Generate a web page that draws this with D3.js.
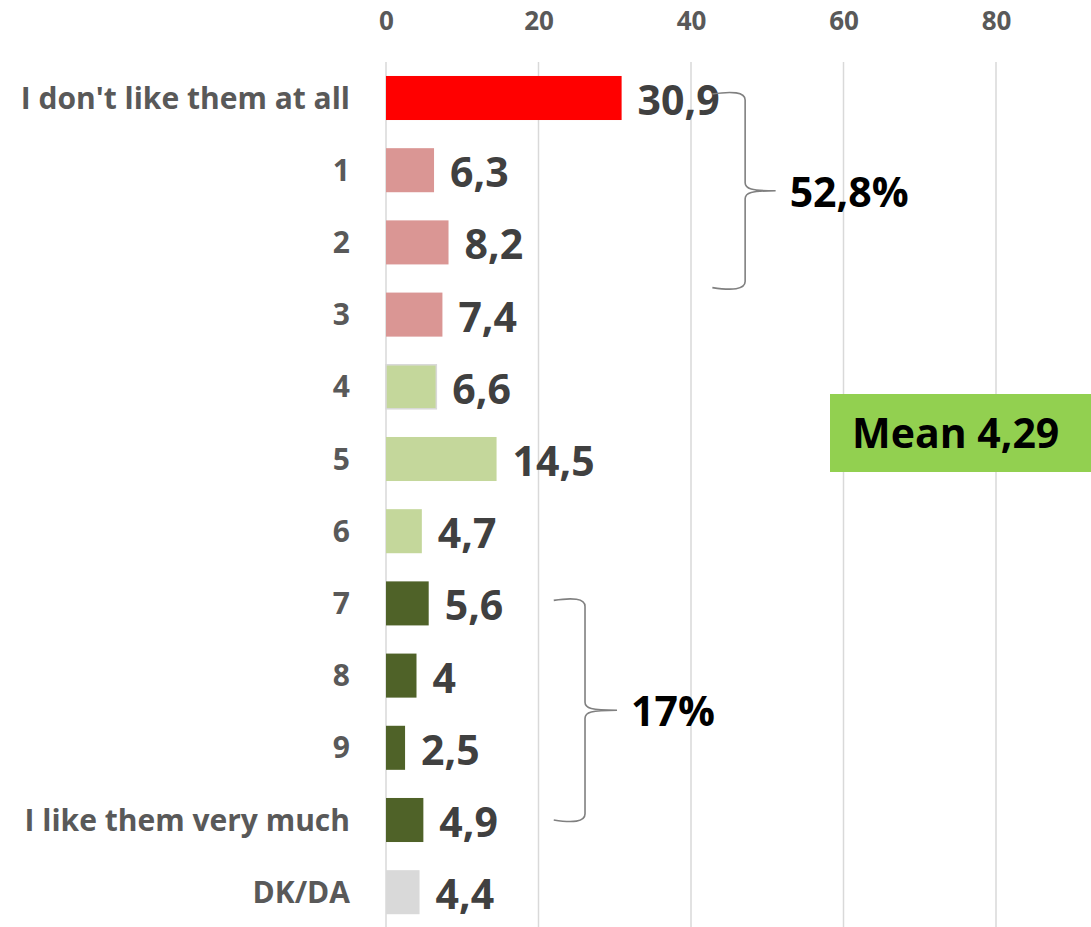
<!DOCTYPE html>
<html>
<head>
<meta charset="utf-8">
<script src="https://cdn.jsdelivr.net/npm/d3@7"></script>
<style>
  html, body { margin: 0; padding: 0; background: #fff; }
  svg { display: block; font-family: "Open Sans", Lato, sans-serif; font-weight: bold; }
</style>
</head>
<body>
<svg id="chart" width="1091" height="927"></svg>
<script>
// ---- data ----
const categories = ["I don't like them at all", "1", "2", "3", "4", "5", "6", "7", "8", "9", "I like them very much", "DK/DA"];
const values = [30.9, 6.3, 8.2, 7.4, 6.6, 14.5, 4.7, 5.6, 4, 2.5, 4.9, 4.4];
const valueLabels = ["30,9", "6,3", "8,2", "7,4", "6,6", "14,5", "4,7", "5,6", "4", "2,5", "4,9", "4,4"];
const ticks = [0, 20, 40, 60, 80];
const groupLabels = ["52,8%", "17%"];
const groupFrom = [0, 7];
const groupTo = [3, 10];
const meanLabel = "Mean 4,29";

// ---- styles ----
const barColors = ["#ff0000", "#da9694", "#da9694", "#da9694", "#c4d79b", "#c4d79b", "#c4d79b", "#4f6228", "#4f6228", "#4f6228", "#4f6228", "#d9d9d9"];
const FONT = "'Open Sans', Lato, sans-serif";

const svg = d3.select("#chart");
const W = 1091, H = 927;

const x = d3.scaleLinear().domain([0, 80]).range([386, 996]);
const y = d3.scaleBand().domain(d3.range(categories.length))
  .range([61.9, 61.9 + 72.2 * categories.length])
  .paddingInner(0.39).paddingOuter(0.195);
const yc = i => y(i) + y.bandwidth() / 2;

// gridlines
svg.append("g").selectAll("line").data(ticks).join("line")
  .attr("x1", d => x(d)).attr("x2", d => x(d))
  .attr("y1", 62).attr("y2", H)
  .attr("stroke", "#d9d9d9").attr("stroke-width", 1.5);

// axis (top)
const axis = svg.append("g").attr("transform", "translate(0,30)")
  .call(d3.axisTop(x).tickValues(ticks).tickSize(0).tickPadding(0).tickFormat(d3.format("d")));
axis.select(".domain").remove();
axis.selectAll("text")
  .attr("y", 0).attr("dy", 0)
  .style("font-family", FONT)
  .style("font-weight", "bold")
  .style("font-size", "26px")
  .attr("fill", "#595959");

// bars
svg.append("g").selectAll("rect").data(values).join("rect")
  .attr("x", x(0))
  .attr("y", (d, i) => y(i))
  .attr("width", d => x(d) - x(0))
  .attr("height", y.bandwidth())
  .attr("fill", (d, i) => barColors[i])
  .attr("stroke", (d, i) => i === 4 ? "#d9d9d9" : "none")
  .attr("stroke-width", 1.5);

// category labels
svg.append("g").selectAll("text").data(categories).join("text")
  .attr("x", 350)
  .attr("y", (d, i) => yc(i) + 10.5)
  .attr("text-anchor", "end")
  .attr("fill", "#595959")
  .style("font-size", "30px")
  .text(d => d);

// value labels
svg.append("g").selectAll("text").data(values).join("text")
  .attr("x", d => x(d) + 16)
  .attr("y", (d, i) => yc(i) + 17)
  .attr("fill", "#404040")
  .style("font-size", "41px")
  .text((d, i) => valueLabels[i]);

// braces
function bracePath(x0, x1, xt, yTop, yBot) {
  const yMid = (yTop + yBot) / 2;
  const r = 8;
  return `M${x0},${yTop + 2} C${x0 + (x1 - x0) * 0.6},${yTop - 1} ${x1},${yTop} ${x1},${yTop + r}` +
    ` L${x1},${yMid - r} C${x1},${yMid - 2} ${x1 + 6},${yMid} ${xt},${yMid}` +
    ` C${x1 + 6},${yMid} ${x1},${yMid + 2} ${x1},${yMid + r}` +
    ` L${x1},${yBot - r} C${x1},${yBot} ${x0 + (x1 - x0) * 0.6},${yBot + 1} ${x0},${yBot - 2}`;
}
const braceSpecs = [
  { x0: 42.8, x1: 47.1, xt: 51.1, top: -6, bot: -25 },
  { x0: 22.0, x1: 26.1, xt: 30.3, top: -5, bot: 2 }
];
groupLabels.forEach((lab, k) => {
  const s = braceSpecs[k];
  const yTop = yc(groupFrom[k]) + s.top;
  const yBot = yc(groupTo[k]) + s.bot;
  svg.append("path")
    .attr("d", bracePath(x(s.x0), x(s.x1), x(s.xt), yTop, yBot))
    .attr("fill", "none").attr("stroke", "#808080").attr("stroke-width", 1.6);
  svg.append("text")
    .attr("x", x(s.xt) + 14)
    .attr("y", (yTop + yBot) / 2 + 16)
    .attr("fill", "#000")
    .style("font-size", "41px")
    .text(lab);
});

// mean box
svg.append("rect").attr("x", 830).attr("y", 394).attr("width", 262).attr("height", 78).attr("fill", "#92d050");
svg.append("text").attr("x", 852).attr("y", 448).attr("fill", "#000").style("font-size", "41px").text(meanLabel);
</script>
</body>
</html>
